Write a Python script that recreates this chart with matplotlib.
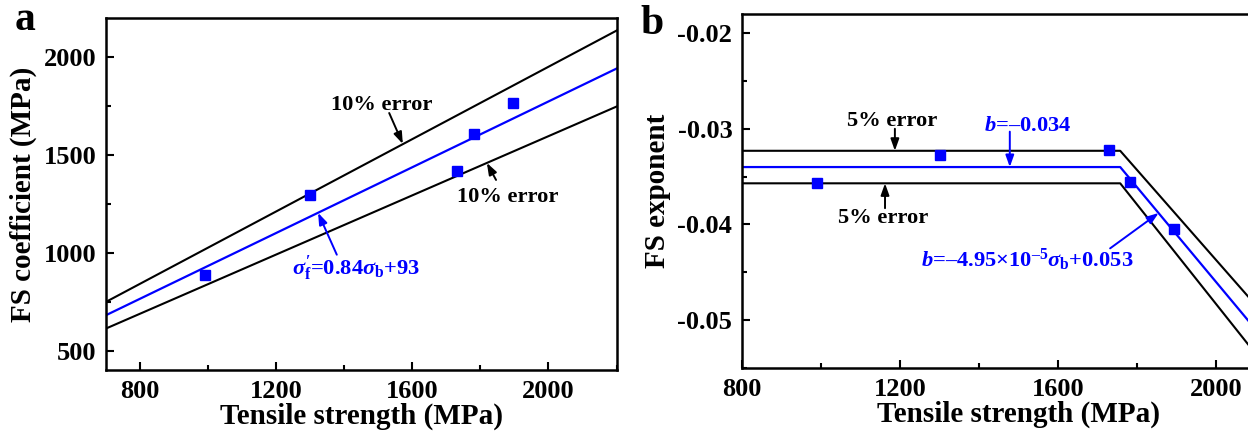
import numpy as np
import matplotlib
matplotlib.use("Agg")
import matplotlib.pyplot as plt
from matplotlib.ticker import MultipleLocator, FuncFormatter

plt.rcParams['font.family'] = ['Liberation Serif', 'DejaVu Serif']
plt.rcParams['font.weight'] = 'bold'
plt.rcParams['mathtext.fontset'] = 'custom'
plt.rcParams['mathtext.rm'] = 'Liberation Serif:bold'
plt.rcParams['mathtext.it'] = 'Liberation Serif:bold:italic'
plt.rcParams['mathtext.bf'] = 'Liberation Serif:bold'

# Data
tensile = [990, 1300, 1730, 1782, 1895]
fs_coeff = [888, 1296, 1420, 1605, 1765]
fs_exp = [-0.0357, -0.0327, -0.0322, -0.0356, -0.0405]

coef_slope, coef_int = 0.84, 93
coef_err = 0.10
b_const = -0.034
b_slope, b_int = -4.95e-5, 0.053
b_err = 0.05

BLUE = '#0000ff'
ANN = 16.2
ARR = '-|>,head_length=0.7,head_width=0.25'

fig = plt.figure(figsize=(12.48, 4.37), dpi=100)
axa = fig.add_axes([0.085, 0.153, 0.409, 0.806])
axb = fig.add_axes([0.5946, 0.158, 0.443, 0.810])


def arrow(ax, tail, head, color):
    ax.annotate('', xy=head, xytext=tail,
                arrowprops=dict(arrowstyle=ARR, color=color, lw=1.4,
                                shrinkA=0, shrinkB=0, mutation_scale=10))


# Panel a
xa = np.array([700, 2200])
fit_a = coef_slope * xa + coef_int
axa.plot(xa, fit_a * (1 + coef_err), color='black', lw=1.5)
axa.plot(xa, fit_a * (1 - coef_err), color='black', lw=1.5)
axa.plot(xa, fit_a, color=BLUE, lw=1.6)
axa.plot(tensile, fs_coeff, 's', color=BLUE, ms=7.5)
axa.set_xlim(700, 2200)
axa.set_ylim(400, 2200)
axa.xaxis.set_major_locator(MultipleLocator(400))
axa.xaxis.set_minor_locator(MultipleLocator(200))
axa.yaxis.set_major_locator(MultipleLocator(500))
axa.yaxis.set_minor_locator(MultipleLocator(250))
axa.set_xlabel('Tensile strength (MPa)', fontsize=21, fontweight='bold', labelpad=0)
axa.set_ylabel('FS coefficient (MPa)', fontsize=21, fontweight='bold', labelpad=5)

axa.text(1511, 1730, '10% error', fontsize=ANN, ha='center', va='baseline', fontweight='bold')
arrow(axa, (1532, 1714), (1572, 1556), 'black')
axa.text(1879, 1260, '10% error', fontsize=ANN, ha='center', va='baseline', fontweight='bold')
arrow(axa, (1846, 1372), (1819, 1459), 'black')
axa.text(1434, 888, r"$\sigma_{\rm f}^{\prime}$=0.84$\sigma_{\rm b}$+93", fontsize=ANN,
         ha='center', va='baseline', color=BLUE, fontweight='bold')
arrow(axa, (1378, 990), (1323, 1204), BLUE)

# Panel b
bp = (b_const - b_int) / b_slope
xb = np.array([800, bp, 2200])
fit_b = np.where(xb <= bp, b_const, b_slope * xb + b_int)
axb.plot(xb, fit_b * (1 - b_err), color='black', lw=1.5)
axb.plot(xb, fit_b * (1 + b_err), color='black', lw=1.5)
axb.plot(xb, fit_b, color=BLUE, lw=1.6)
axb.plot(tensile, fs_exp, 's', color=BLUE, ms=7.5)
axb.set_xlim(800, 2200)
axb.set_ylim(-0.055, -0.018)
axb.xaxis.set_major_locator(MultipleLocator(400))
axb.xaxis.set_minor_locator(MultipleLocator(200))
axb.yaxis.set_major_locator(MultipleLocator(0.01))
axb.yaxis.set_minor_locator(MultipleLocator(0.005))
axb.yaxis.set_major_formatter(FuncFormatter(lambda v, p: f"{v:.2f}"))
axb.set_xlabel('Tensile strength (MPa)', fontsize=21, fontweight='bold', labelpad=0)
axb.set_ylabel('FS exponent', fontsize=21, fontweight='bold', labelpad=5)

axb.text(1180, -0.02969, '5% error', fontsize=ANN, ha='center', va='baseline', fontweight='bold')
arrow(axb, (1187, -0.0300), (1187, -0.0323), 'black')
axb.text(1157, -0.0399, '5% error', fontsize=ANN, ha='center', va='baseline', fontweight='bold')
arrow(axb, (1162, -0.0383), (1162, -0.0357), 'black')
axb.text(1524, -0.0302, "$b$=\u20130.034", fontsize=ANN, ha='center', va='baseline',
         color=BLUE, fontweight='bold')
arrow(axb, (1478, -0.0303), (1478, -0.0340), BLUE)
axb.text(1522, -0.04438, "$b$=\u20134.95\u00d710$^{\u2013{\\rm 5}}$$\\sigma_{\\rm b}$+0.053",
         fontsize=ANN, ha='center', va='baseline', color=BLUE, fontweight='bold')
arrow(axb, (1732, -0.0425), (1855, -0.0388), BLUE)

for ax in (axa, axb):
    for s in ax.spines.values():
        s.set_linewidth(1.8)
    ax.tick_params(which='both', direction='in', width=1.5, labelsize=19)
    ax.tick_params(which='major', length=6, pad=7)
    ax.tick_params(which='minor', length=3.5)
    for lab in ax.get_xticklabels() + ax.get_yticklabels():
        lab.set_fontweight('bold')

fig.text(0.012, 0.955, 'a', fontsize=30, fontweight='bold', va='center')
fig.text(0.513, 0.945, 'b', fontsize=30, fontweight='bold', va='center')

fig.savefig('out.png', dpi=100)
